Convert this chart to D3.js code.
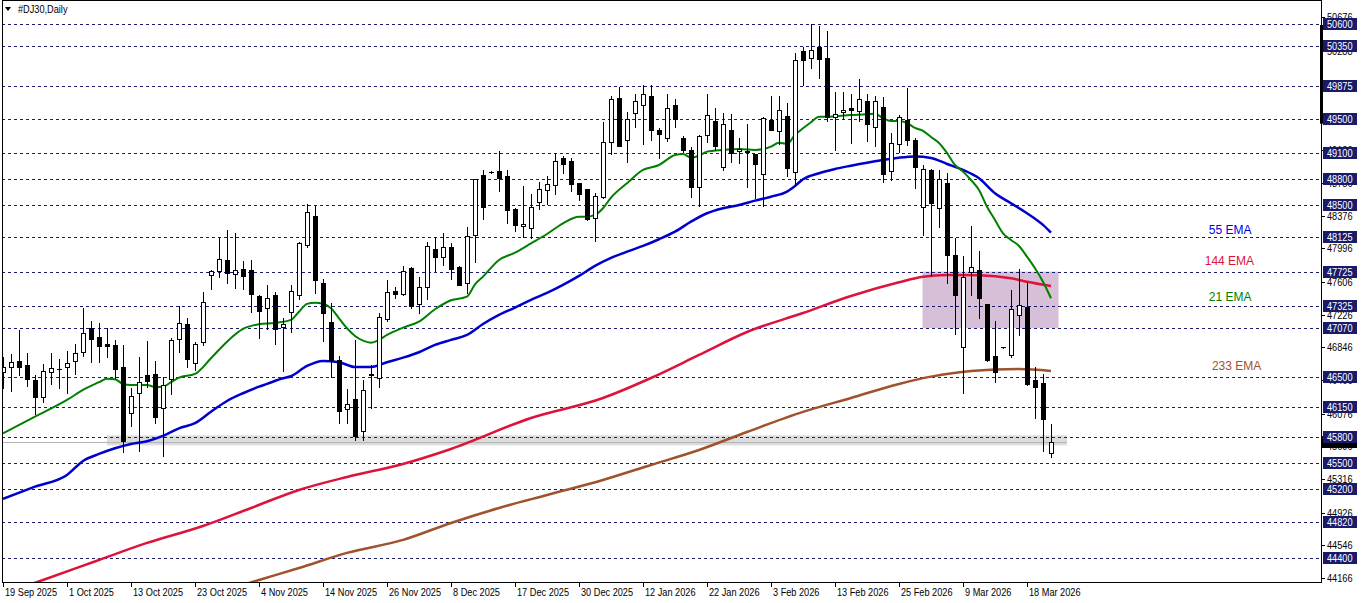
<!DOCTYPE html>
<html><head><meta charset="utf-8">
<script src="https://cdn.jsdelivr.net/npm/d3@7/dist/d3.min.js"></script>
<style>
body{margin:0;background:#fff}
svg{display:block}
.ax{font-family:'Liberation Sans',Arial,sans-serif;font-size:11px}
.lb{font-family:'Liberation Sans',Arial,sans-serif;font-size:12px}
</style>
</head><body><svg id="c" width="1362" height="603"></svg>
<script>
// ---- DATA ----
const dateLabels=["19 Sep 2025","1 Oct 2025","13 Oct 2025","23 Oct 2025","4 Nov 2025","14 Nov 2025","26 Nov 2025","8 Dec 2025","17 Dec 2025","30 Dec 2025","12 Jan 2026","22 Jan 2026","3 Feb 2026","13 Feb 2026","25 Feb 2026","9 Mar 2026","18 Mar 2026"];
const opens=[46557,46615,46688,46641,46467,46266,46557,46591,46615,46684,46789,47067,46963,46882,46870,46615,46081,46313,46522,46533,46139,46475,46940,47117,46661,46905,47683,47729,47857,47694,47752,47741,47446,47300,47451,47082,47253,47454,48035,48371,47593,47141,46699,46127,46247,45872,46537,46487,47172,47504,47469,47768,47346,47550,47988,47899,48011,47779,47590,48147,48847,48886,48894,48836,48452,48252,48228,48530,48670,48728,49045,49010,48751,48685,48345,48595,49234,49738,49250,49571,49657,49764,49366,49273,49660,49273,49141,48711,49308,49471,48937,49366,49122,49129,49091,48855,49486,49362,49532,48879,50287,50202,50333,50206,49524,49575,49622,49594,49706,49408,49637,48890,49204,49486,49254,48479,48905,48461,48751,47915,46854,47718,47741,47346,46742,46847,46761,47218,47315,46467,46432,45623];
const highs=[46731,46769,47048,46781,46522,46653,46777,46711,46804,46889,47307,47152,47129,47067,46928,46874,46371,46731,46924,46691,46506,46951,47323,47183,46912,47492,47744,48112,48209,48170,47849,47860,47454,47567,47489,47183,47570,48073,48514,48491,47636,47361,46746,46359,46928,46467,46641,47242,47628,47550,47794,47779,47663,48066,48127,48174,48054,47785,48247,48800,48905,48898,49126,48905,48458,48719,48623,48770,48839,49091,49071,49041,48757,48690,48635,49459,49764,49869,49579,49784,49889,49892,49389,49788,49733,49300,49169,49308,49784,49622,49571,49555,49273,49439,49096,49524,49764,49764,49683,50260,50337,50597,50574,50519,49811,49811,49788,49962,49788,49764,49753,49335,49544,49857,49277,48963,48913,48905,48874,48112,47907,48255,47965,47352,47149,46852,47512,47752,47597,46618,46540,45956];
const lows=[46378,46339,46525,46398,46073,46215,46421,46378,46320,46537,46749,46680,46680,46738,46490,45635,45937,45646,46382,45968,45588,46301,46796,46622,46587,46877,47524,47667,47593,47539,47524,47253,46958,47056,46882,46572,47021,47404,48015,47481,46924,46499,45972,45965,45774,45767,46139,46389,47156,47419,47451,47307,47249,47408,47733,47802,47643,47570,47474,47841,48340,48874,48665,48293,48197,48131,48112,48449,48511,48627,48867,48662,48557,48328,48081,48577,49091,49180,48995,49405,49204,49257,49048,49242,49405,49114,48595,48487,49234,49138,48905,48995,48983,48711,48577,48491,49365,49207,48836,48731,49892,50093,49970,49474,49141,49494,49222,49474,49242,49184,48762,48793,49111,49196,48693,48151,47686,48247,47597,47005,46320,47457,47190,46688,46447,46842,46738,46993,46409,46022,45646,45577];
const closes=[46622,46673,46622,46475,46266,46568,46603,46595,46668,46784,47009,46940,46865,46865,46591,45762,46278,46441,46452,46041,46413,46928,47125,46707,46882,47369,47729,47869,47713,47741,47678,47462,47272,47423,47059,47114,47500,48054,48414,47632,47249,46703,46111,46185,45821,46348,46525,47195,47489,47462,47729,47326,47543,48020,47899,48011,47759,47574,48136,48797,48479,48883,48809,48444,48263,48275,48476,48685,48739,49010,48978,48739,48630,48333,48600,49230,49726,49187,49501,49703,49784,49373,49320,49622,49501,49134,48711,49297,49540,49187,49443,49106,49149,49111,48978,49512,49373,49598,48932,50179,50186,50295,50198,49524,49555,49598,49602,49730,49443,49706,48862,49219,49517,49254,48944,48913,48519,48797,47918,47457,47659,47776,47423,46699,46557,46847,47288,47334,46424,46389,46018,45744];
// moving averages: [bar index, price]
const ema21=[[0,45848],[4,46041],[8,46235],[10,46351],[12,46441],[13,46482],[14,46475],[15,46421],[16,46409],[18,46409],[19,46386],[20,46389],[21,46441],[22,46494],[24,46537],[26,46719],[28,46912],[30,47059],[32,47114],[34,47129],[36,47164],[37,47260],[38,47350],[39,47365],[40,47353],[41,47300],[42,47183],[43,47067],[44,46978],[45,46924],[46,46900],[47,46932],[48,46990],[50,47074],[52,47144],[54,47288],[56,47392],[58,47434],[59,47578],[60,47667],[62,47860],[64,47945],[66,48052],[68,48162],[70,48286],[72,48363],[73,48363],[74,48383],[75,48461],[76,48584],[78,48751],[80,48905],[82,48963],[84,49079],[85,49091],[86,49048],[87,49071],[88,49118],[90,49138],[92,49149],[94,49138],[96,49176],[97,49222],[98,49207],[99,49312],[100,49389],[101,49459],[102,49524],[103,49524],[106,49544],[108,49552],[109,49559],[110,49506],[111,49474],[112,49474],[113,49451],[114,49393],[115,49358],[116,49288],[117,49219],[118,49103],[119,48963],[120,48886],[121,48789],[122,48673],[123,48479],[124,48325],[125,48170],[126,48093],[127,48023],[128,47899],[129,47764],[130,47608],[131,47416]];
const ema55=[[0,45086],[4,45228],[8,45364],[10,45527],[12,45608],[14,45674],[16,45724],[18,45755],[20,45817],[22,45906],[24,45965],[26,46099],[28,46223],[30,46313],[32,46389],[33,46421],[35,46487],[36,46510],[38,46630],[40,46688],[42,46673],[44,46618],[46,46618],[48,46673],[50,46726],[52,46789],[54,46874],[56,46932],[58,46990],[60,47117],[62,47222],[64,47307],[66,47396],[68,47477],[70,47570],[72,47675],[74,47791],[76,47884],[78,47957],[80,48023],[82,48101],[84,48189],[86,48305],[88,48403],[90,48461],[92,48499],[94,48549],[96,48595],[98,48653],[99,48719],[100,48797],[102,48867],[104,48917],[106,48955],[108,48990],[110,49021],[112,49048],[114,49062],[116,49045],[118,48975],[120,48905],[122,48809],[124,48635],[126,48519],[128,48403],[130,48267],[131,48177]];
const ema144=[[0,43983],[5,44145],[12,44377],[18,44575],[25,44772],[31,44981],[37,45190],[43,45341],[50,45492],[56,45666],[66,46026],[75,46258],[81,46490],[87,46757],[93,47024],[100,47245],[106,47442],[112,47601],[115,47666],[118,47686],[122,47683],[126,47648],[128,47608],[131,47558]];
const ema233=[[29,44060],[32,44145],[37,44284],[43,44459],[50,44610],[56,44807],[62,44981],[68,45132],[75,45306],[81,45480],[87,45654],[93,45863],[100,46096],[106,46258],[112,46421],[116,46506],[121,46572],[127,46595],[131,46572]];
const emaLabels=[{t:"55 EMA",p:48209,b:153.4,c:"#0000e0"},{t:"144 EMA",p:47855,b:153.3,c:"#dc143c"},{t:"21 EMA",p:47431,b:153.4,c:"#008000"},{t:"233 EMA",p:46637,b:154.2,c:"#a0522d"}];
const gridLevels=[50600,50350,49875,49500,49100,48800,48500,48125,47725,47325,47070,46500,46150,45800,45500,45200,44820,44400];
const scaleTicks=[44166,44546,44926,45316,45696,46076,46466,46846,47226,47606,47996,48376,48756,49136,49526,49906,50288,50676];
const zoneBox={b0:115,b1:132,p0:47725,p1:47070};
const supportBand={b0:13,b1:133,p0:45824,p1:45708};
const bidPrice=45744;

// ---- CHART ----
const svg=d3.select("#c");
const L=2,R=1321,T=0,B=582;
const SX=0.835; // horizontal squeeze of axis text (narrow terminal font)
const x=d3.scaleLinear().domain([0,131]).range([3,1051]);
const y=d3.scaleLinear().domain([44400,50600]).range([558,24]);
const navy="#1a1a6a";
svg.append("rect").attr("width",1362).attr("height",603).attr("fill","#fff");
svg.append("clipPath").attr("id","pc").append("rect").attr("x",L+1).attr("y",T+1).attr("width",R-L-1).attr("height",B-T-1);
const g=svg.append("g").attr("clip-path","url(#pc)");
const px=v=>Math.round(v)+0.5;
const sText=(sel,tx,ty)=>sel.append("g").attr("transform",(d,i)=>`translate(${tx(d,i)},${ty(d,i)}) scale(${SX},1)`).append("text").attr("class","ax");

// purple zone & gray band
g.append("rect").attr("x",x(zoneBox.b0)-0.5).attr("width",x(zoneBox.b1)-x(zoneBox.b0)).attr("y",y(zoneBox.p0)).attr("height",y(zoneBox.p1)-y(zoneBox.p0)).attr("fill","#d8bfd8");
g.append("rect").attr("x",x(supportBand.b0)).attr("width",x(supportBand.b1)-x(supportBand.b0)).attr("y",y(supportBand.p0)).attr("height",y(supportBand.p1)-y(supportBand.p0)).attr("fill","#dcdcdc");

// grid
g.selectAll("line.grid").data(gridLevels).join("line").attr("class","grid")
 .attr("x1",L).attr("x2",R).attr("y1",d=>px(y(d))).attr("y2",d=>px(y(d)))
 .attr("stroke",navy).attr("stroke-width",1).attr("stroke-dasharray","3,3");

// bid line
g.append("line").attr("x1",L).attr("x2",x(133)).attr("y1",px(y(bidPrice))).attr("y2",px(y(bidPrice))).attr("stroke","#b4b4b4").attr("stroke-width",1);

// EMAs
const line=d3.line().x(d=>x(d[0])).y(d=>y(d[1])).curve(d3.curveMonotoneX);
[[ema233,"#a0522d"],[ema144,"#dc143c"],[ema55,"#0000cd"],[ema21,"#008000"]].forEach(([d,c])=>{
 g.append("path").attr("d",line(d)).attr("fill","none").attr("stroke",c).attr("stroke-width",c==="#008000"?2:2.5);
});

// candles
const idx=d3.range(opens.length);
const cg=g.append("g");
cg.selectAll("line.w").data(idx).join("line").attr("class","w")
 .attr("x1",i=>px(x(i))).attr("x2",i=>px(x(i))).attr("y1",i=>Math.round(y(highs[i]))).attr("y2",i=>Math.round(y(lows[i]))+1)
 .attr("stroke","#000").attr("stroke-width",1);
cg.selectAll("rect.b").data(idx).join("rect").attr("class","b")
 .attr("x",i=>Math.round(x(i))-1.5).attr("width",4)
 .attr("y",i=>Math.round(y(Math.max(opens[i],closes[i])))+0.5)
 .attr("height",i=>Math.max(0.01,Math.round(y(Math.min(opens[i],closes[i])))-Math.round(y(Math.max(opens[i],closes[i])))))
 .attr("fill",i=>closes[i]>=opens[i]?"#fff":"#000").attr("stroke","#000").attr("stroke-width",1);

// EMA labels
svg.selectAll("text.lb").data(emaLabels).join("text").attr("class","lb")
 .attr("x",d=>x(d.b)).attr("y",d=>y(d.p)).attr("dy","0.35em").attr("text-anchor","middle").attr("fill",d=>d.c).text(d=>d.t);

// frame
svg.append("line").attr("x1",L+0.5).attr("x2",L+0.5).attr("y1",0).attr("y2",B+0.5).attr("stroke","#000");
svg.append("line").attr("x1",L).attr("x2",R+0.5).attr("y1",0.5).attr("y2",0.5).attr("stroke","#000");
svg.append("line").attr("x1",R+0.5).attr("x2",R+0.5).attr("y1",0).attr("y2",B+0.5).attr("stroke","#000");
svg.append("line").attr("x1",L).attr("x2",R+1).attr("y1",B+0.5).attr("y2",B+0.5).attr("stroke","#000");
svg.append("rect").attr("x",R-1).attr("width",3).attr("y",y(50600)+1).attr("height",y(49500)-y(50600)+4).attr("fill","#000");

// title
svg.append("path").attr("d","M5,7L11,7L8,11Z").attr("fill","#000");
sText(svg.append("g").datum(0),()=>18,()=>13).attr("fill","#000").text("#DJ30,Daily");

// price scale: plain ticks
const ya=svg.append("g");
ya.selectAll("line.t").data(scaleTicks).join("line").attr("class","t")
 .attr("x1",R+1).attr("x2",R+4).attr("y1",d=>px(y(d))).attr("y2",d=>px(y(d))).attr("stroke","#000");
const tg=ya.selectAll("g.t").data(scaleTicks).join("g").attr("class","t");
sText(tg,()=>R+6,d=>Math.round(y(d))).attr("dy","0.36em").attr("fill","#000").text(d=>d);
// bid price tag
ya.append("rect").attr("x",R+1).attr("width",35).attr("y",Math.round(y(bidPrice))-6).attr("height",12).attr("fill","#000");
// grid price boxes
const bx=ya.selectAll("g.bx").data(gridLevels).join("g").attr("class","bx");
bx.append("rect").attr("x",R+2).attr("width",34).attr("y",d=>Math.round(y(d))-6).attr("height",12).attr("fill",navy);
sText(bx,()=>R+6,d=>Math.round(y(d))).attr("dy","0.36em").attr("fill","#fff").text(d=>d);

// time axis
const xa=svg.append("g");
xa.selectAll("line").data(dateLabels).join("line")
 .attr("x1",(d,i)=>px(x(i*8))).attr("x2",(d,i)=>px(x(i*8))).attr("y1",B).attr("y2",B+5).attr("stroke","#000");
const dg=xa.selectAll("g.d").data(dateLabels).join("g").attr("class","d");
sText(dg,(d,i)=>x(i*8)+2,()=>B+14).attr("fill","#000").text(d=>d);
</script></body></html>
